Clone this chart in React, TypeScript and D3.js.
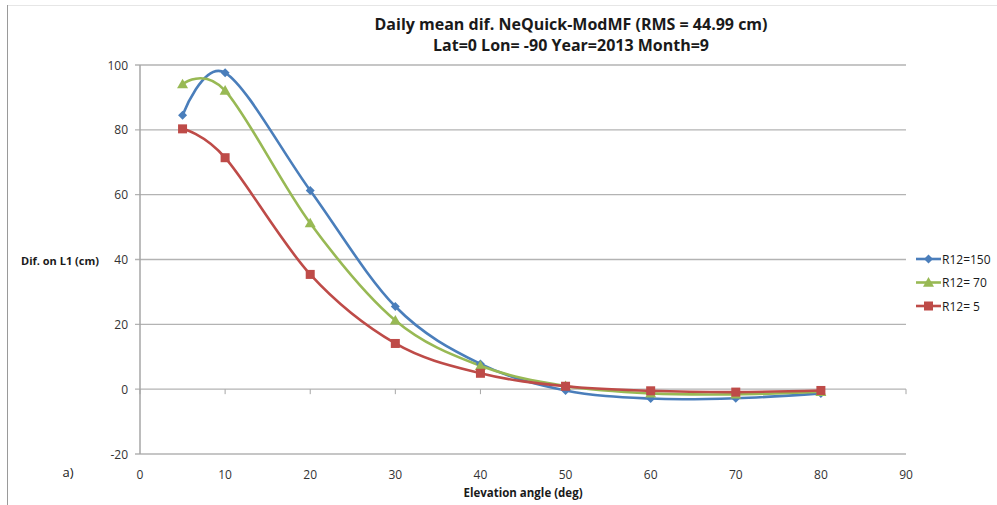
import React from "react";
import * as d3 from "d3";

const elevations = [5, 10, 20, 30, 40, 50, 60, 70, 80];
const r150 = [84.5, 97.6, 61.3, 25.5, 7.8, -0.4, -2.9, -2.8, -1.3];
const r70 = [94.1, 92.1, 51.2, 21.2, 7.2, 1.0, -1.3, -1.6, -0.8];
const r5 = [80.3, 71.4, 35.4, 14.1, 4.9, 0.9, -0.5, -0.9, -0.4];
const seriesNames = ["R12=150", "R12= 70", "R12= 5"];
const xTicks = [0, 10, 20, 30, 40, 50, 60, 70, 80, 90];
const yTicks = [-20, 0, 20, 40, 60, 80, 100];

const W = 997;
const H = 505;
const FONT = "'Open Sans', 'DejaVu Sans', sans-serif";

export default function App() {
  const x = d3.scaleLinear().domain([0, 90]).range([140, 906]);
  const y = d3.scaleLinear().domain([-20, 100]).range([454, 65]);
  const colors = ["#4A7EBB", "#98B954", "#BE4B48"];
  const data = [r150, r70, r5];
  const line = d3
    .line<number>()
    .x((_, i) => x(elevations[i]))
    .y((d) => y(d))
    .curve(d3.curveCardinal.tension(0));

  const marker = (k: number, cx: number, cy: number, key: string) => {
    if (k === 0) {
      const s = 4.5;
      return (
        <path key={key} d={`M${cx},${cy - s}L${cx + s},${cy}L${cx},${cy + s}L${cx - s},${cy}Z`} fill={colors[0]} />
      );
    }
    if (k === 1) {
      const s = 5.5;
      return (
        <path key={key} d={`M${cx},${cy - s}L${cx + s},${cy + s * 0.75}L${cx - s},${cy + s * 0.75}Z`} fill={colors[1]} />
      );
    }
    const s = 4.5;
    return <rect key={key} x={cx - s} y={cy - s} width={2 * s} height={2 * s} fill={colors[2]} />;
  };

  return (
    <svg width={W} height={H} style={{ display: "block", position: "absolute", left: 0, top: 0 }} fontFamily={FONT}>
      <rect x={0} y={0} width={W} height={H} fill="#fff" />
      <line x1={7} x2={997} y1={5.5} y2={5.5} stroke="#e6e6e6" strokeWidth={1} />
      <line x1={7.5} x2={7.5} y1={5} y2={505} stroke="#9a9a9a" strokeWidth={1} />

      {/* title */}
      <text x={571} y={30} textAnchor="middle" fontSize={16} fontWeight="bold" fill="#1a1a1a">
        Daily mean dif. NeQuick-ModMF (RMS = 44.99 cm)
      </text>
      <text x={571} y={51} textAnchor="middle" fontSize={16} fontWeight="bold" fill="#1a1a1a">
        Lat=0 Lon= -90 Year=2013 Month=9
      </text>

      {/* gridlines */}
      {yTicks.map((t) => (
        <line key={"g" + t} x1={135} x2={906} y1={y(t)} y2={y(t)} stroke="#B3B3B3" strokeWidth={1.3} />
      ))}
      {/* y axis */}
      <line x1={x(0)} x2={x(0)} y1={y(100)} y2={y(-20)} stroke="#A6A6A6" strokeWidth={1.5} />
      {/* x axis ticks at y=0 */}
      {xTicks.map((t) => (
        <line key={"xt" + t} x1={x(t)} x2={x(t)} y1={y(0)} y2={y(0) + 5} stroke="#A6A6A6" strokeWidth={1} />
      ))}
      {yTicks.map((t) => (
        <text key={"yl" + t} x={128} y={y(t) + 4.5} textAnchor="end" fontSize={12} fill="#333">
          {t}
        </text>
      ))}
      {xTicks.map((t) => (
        <text key={"xl" + t} x={x(t)} y={479} textAnchor="middle" fontSize={12} fill="#333">
          {t}
        </text>
      ))}
      <text x={60} y={265} textAnchor="middle" fontSize={11} fontWeight="bold" fill="#1a1a1a">
        Dif. on L1 (cm)
      </text>
      <text x={523} y={497} textAnchor="middle" fontSize={11.5} fontWeight="bold" fill="#1a1a1a">
        Elevation angle (deg)
      </text>
      <text x={68} y={477} textAnchor="middle" fontSize={13} fill="#1a1a1a">
        a)
      </text>

      {/* series */}
      {data.map((s, k) => (
        <path key={"l" + k} d={line(s) || ""} fill="none" stroke={colors[k]} strokeWidth={2.6} />
      ))}
      {data.map((s, k) => s.map((v, i) => marker(k, x(elevations[i]), y(v), `m${k}-${i}`)))}

      {/* legend */}
      {seriesNames.map((n, k) => {
        const ly = 259 + k * 23.5;
        return (
          <g key={"lg" + k}>
            <line x1={916} x2={941} y1={ly} y2={ly} stroke={colors[k]} strokeWidth={2.6} />
            {marker(k, 928.5, ly, "lm" + k)}
            <text x={942} y={ly + 4.5} fontSize={12} fill="#1a1a1a">
              {n}
            </text>
          </g>
        );
      })}
    </svg>
  );
}
